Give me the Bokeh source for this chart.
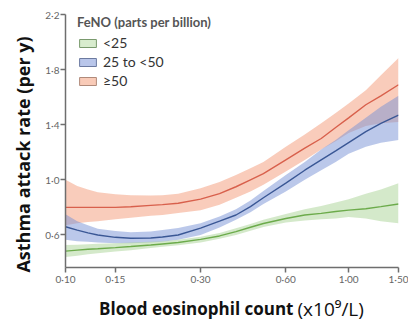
import math
from bokeh.plotting import figure
from bokeh.layouts import row, column
from bokeh.models import (Range1d, FixedTicker, CustomJSTickFormatter, Label,
                          Legend, LegendItem, ColumnDataSource)
from bokeh.embed import file_html
from bokeh.resources import INLINE

# ---- data ----
eos = [0.10, 0.11, 0.12, 0.13, 0.15, 0.17, 0.20, 0.22, 0.25, 0.30, 0.35,
       0.40, 0.45, 0.50, 0.60, 0.70, 0.80, 0.90, 1.00, 1.15, 1.30, 1.50]

low_rate  = [0.483, 0.490, 0.496, 0.500, 0.508, 0.516, 0.527, 0.535, 0.545, 0.568, 0.593,
             0.624, 0.656, 0.683, 0.720, 0.745, 0.757, 0.770, 0.780, 0.790, 0.806, 0.825]
low_upper = [0.527, 0.530, 0.533, 0.536, 0.540, 0.545, 0.550, 0.555, 0.565, 0.588, 0.615,
             0.648, 0.680, 0.710, 0.753, 0.787, 0.810, 0.835, 0.860, 0.900, 0.930, 0.975]
low_lower = [0.440, 0.450, 0.460, 0.468, 0.480, 0.490, 0.505, 0.515, 0.525, 0.545, 0.572,
             0.600, 0.630, 0.658, 0.690, 0.705, 0.714, 0.720, 0.730, 0.720, 0.700, 0.685]

mid_rate  = [0.660, 0.635, 0.615, 0.600, 0.583, 0.576, 0.578, 0.585, 0.600, 0.650, 0.700,
             0.745, 0.806, 0.870, 0.976, 1.070, 1.145, 1.210, 1.270, 1.350, 1.410, 1.470]
mid_upper = [0.750, 0.700, 0.670, 0.645, 0.628, 0.620, 0.625, 0.636, 0.650, 0.685, 0.735,
             0.787, 0.850, 0.920, 1.036, 1.130, 1.220, 1.290, 1.360, 1.450, 1.530, 1.610]
mid_lower = [0.565, 0.555, 0.550, 0.545, 0.540, 0.540, 0.545, 0.550, 0.565, 0.600, 0.655,
             0.710, 0.765, 0.825, 0.915, 1.000, 1.070, 1.130, 1.190, 1.240, 1.270, 1.290]

high_rate  = [0.800, 0.800, 0.800, 0.800, 0.800, 0.805, 0.815, 0.820, 0.830, 0.860, 0.900,
              0.950, 1.000, 1.045, 1.145, 1.230, 1.300, 1.380, 1.450, 1.545, 1.610, 1.690]
high_upper = [1.000, 0.955, 0.930, 0.910, 0.895, 0.888, 0.887, 0.888, 0.900, 0.940, 0.985,
              1.036, 1.085, 1.130, 1.240, 1.330, 1.410, 1.485, 1.555, 1.650, 1.760, 1.885]
high_lower = [0.670, 0.685, 0.695, 0.700, 0.715, 0.725, 0.740, 0.745, 0.760, 0.780, 0.820,
              0.870, 0.915, 0.964, 1.060, 1.145, 1.220, 1.280, 1.340, 1.390, 1.410, 1.420]

x_ticks = [0.10, 0.15, 0.30, 0.60, 1.00, 1.50]
y_ticks = [0.6, 1.0, 1.4, 1.8, 2.2]
series_names = ["<25", "25 to <50", "\u226550"]
legend_title = "FeNO (parts per billion)"
y_title = "Asthma attack rate (per y)"
x_title_bold = "Blood eosinophil count"
x_title_unit = "(x10\u2079/L)"

FONT = "Lato"
TFONT = "Open Sans"

LEFT_W = 35      # strip holding the y-axis title
BOTTOM_H = 25    # strip holding the x-axis title

p = figure(width=408 - LEFT_W, height=320 - BOTTOM_H, x_axis_type="log",
           x_range=Range1d(0.10, 1.50), y_range=Range1d(0.364, 2.2),
           output_backend="svg", toolbar_location=None, frame_align=False,
           min_border_left=65 - LEFT_W, min_border_right=10, min_border_top=14,
           min_border_bottom=320 - BOTTOM_H - 267)
p.outline_line_color = None
p.grid.visible = False
p.background_fill_color = "white"

src = ColumnDataSource(dict(x=eos,
                            lr=low_rate, lu=low_upper, ll=low_lower,
                            mr=mid_rate, mu=mid_upper, ml=mid_lower,
                            hr=high_rate, hu=high_upper, hl=high_lower))

band_cols = ["#a9d395", "#7892d6", "#f49a78"]
line_cols = ["#6cab4b", "#3a5795", "#d8604c"]

p.varea(x="x", y1="hl", y2="hu", source=src, fill_color=band_cols[2], fill_alpha=0.5)
p.varea(x="x", y1="ml", y2="mu", source=src, fill_color=band_cols[1], fill_alpha=0.5)
p.varea(x="x", y1="ll", y2="lu", source=src, fill_color=band_cols[0], fill_alpha=0.5)
p.line(x="x", y="hr", source=src, line_color=line_cols[2], line_width=1.4)
p.line(x="x", y="mr", source=src, line_color=line_cols[1], line_width=1.4)
p.line(x="x", y="lr", source=src, line_color=line_cols[0], line_width=1.4)

# legend swatches (renderers with no drawable data)
nan = float("nan")
swatch_fill = ["#d8ecce", "#b9c6ea", "#f9cbb8"]
swatch_line = ["#7a9a6e", "#6c7aa0", "#b08a7a"]
items = []
for name, fc, lc in zip(series_names, swatch_fill, swatch_line):
    r = p.quad(left=[nan], right=[nan], top=[nan], bottom=[nan],
               fill_color=fc, line_color=lc, line_width=1)
    items.append(LegendItem(label=name, renderers=[r]))

legend = Legend(items=items, location=(12, 178), title=legend_title,
                title_text_font=FONT, title_text_font_style="bold", title_text_font_size="13px",
                title_text_color="#555555", title_standoff=4,
                label_text_font=FONT, label_text_font_size="14px", label_text_color="#333333",
                glyph_width=21, glyph_height=10, label_height=14, label_standoff=5, spacing=2,
                padding=0, margin=0, border_line_color=None, background_fill_alpha=0)
p.add_layout(legend)

# axes
for ax in (p.xaxis, p.yaxis):
    ax.axis_line_color = "#6e6e6e"
    ax.axis_line_width = 1.5
    ax.major_tick_line_color = "#6e6e6e"
    ax.major_tick_line_width = 1.5
    ax.major_tick_out = 5
    ax.major_tick_in = 0
    ax.minor_tick_out = 0
    ax.minor_tick_in = 0
    ax.major_label_text_font = FONT
    ax.major_label_text_font_size = "10px"
    ax.major_label_text_color = "#666666"
p.xaxis.major_label_standoff = 0
p.yaxis.major_label_standoff = 1

p.xaxis.ticker = FixedTicker(ticks=x_ticks)
p.yaxis.ticker = FixedTicker(ticks=y_ticks)
p.xaxis.formatter = CustomJSTickFormatter(code="return tick.toFixed(2).replace('.', '\u00b7');")
p.yaxis.formatter = CustomJSTickFormatter(code="return tick.toFixed(1).replace('.', '\u00b7');")


def strip(w, h):
    f = figure(width=w, height=h, output_backend="svg", toolbar_location=None,
               x_axis_location=None, y_axis_location=None, frame_align=False,
               min_border=0, min_border_left=0, min_border_right=0,
               min_border_top=0, min_border_bottom=0)
    f.outline_line_color = None
    f.grid.visible = False
    return f


# y-axis title strip (left)
ys = strip(LEFT_W, 320)
ys.add_layout(Label(x=22, y=320 - 154, x_units="screen", y_units="screen", text=y_title,
                    angle=math.pi / 2, text_align="center", text_baseline="middle",
                    text_font=TFONT, text_font_style="bold", text_font_size="18px",
                    text_color="#111111"))

# x-axis title strip (bottom)
xs = strip(408 - LEFT_W, BOTTOM_H)
xs.add_layout(Label(x=293 - LEFT_W, y=12, x_units="screen", y_units="screen", text=x_title_bold,
                    text_align="right", text_baseline="middle", text_font=TFONT,
                    text_font_style="bold", text_font_size="17px", text_color="#111111"))
xs.add_layout(Label(x=297 - LEFT_W, y=12, x_units="screen", y_units="screen", text=x_title_unit,
                    text_align="left", text_baseline="middle", text_font=TFONT,
                    text_font_size="19px", text_color="#111111"))

layout = row(ys, column(p, xs, spacing=0), spacing=0)

open("out.html", "w").write(file_html(layout, INLINE))
